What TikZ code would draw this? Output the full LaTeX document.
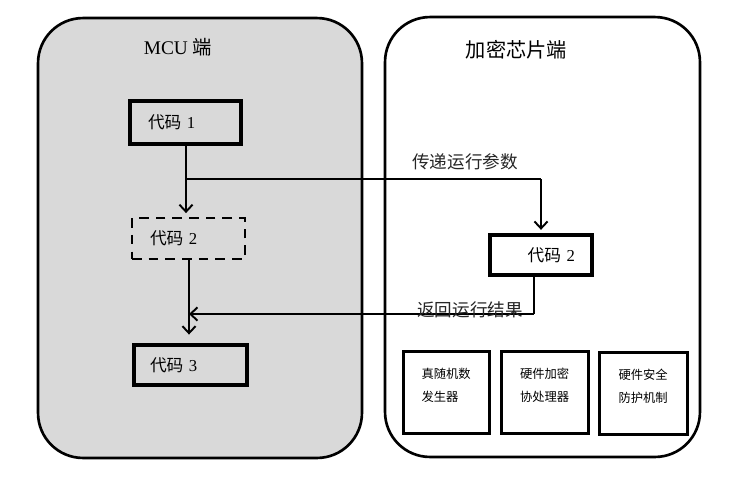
\documentclass[tikz,border=0pt]{standalone}
\usepackage{fontspec}
\setmainfont{Liberation Serif}
\newfontfamily\cjk{Noto Sans CJK SC}
\usetikzlibrary{arrows.meta}
\definecolor{panelgray}{HTML}{D9D9D9}
\tikzset{
  panel/.style={draw, line width=1.5pt, rounded corners=0.9cm, inner sep=0pt, minimum height=8.8cm},
  codebox/.style={draw, line width=1.9pt, inner ysep=0pt, font=\fontsize{9.5}{11}\selectfont},
  unitbox/.style={draw, line width=1.8pt, align=left, inner xsep=0.36cm, text width=1.0cm,
    minimum height=1.64cm, text depth=0.76cm, anchor=north west, font=\cjk\fontsize{7}{13}\selectfont},
  flowlabel/.style={font=\fontsize{10}{12}\selectfont, text=black!85},
  flow/.style={-{Straight Barb[length=4pt,width=7.5pt]}, line width=1.1pt},
}
\begin{document}
\begin{tikzpicture}[x=0.02cm, y=-0.02cm]
    \useasboundingbox (0,0) rectangle (747,478);

    % Two sides
    \node[panel, fill=panelgray, minimum width=6.48cm] (mcu) at (200,238) {};
    \node[panel, fill=white, minimum width=6.3cm] (chip) at (542.5,237) {};
    \node[font=\fontsize{11}{13}\selectfont] (mcutitle) at (178,47) {MCU {\cjk 端}};
    \node[font=\cjk\fontsize{11.5}{13}\selectfont] (chiptitle) at (516.5,50) {加密芯片端};

    % Code blocks
    \node[codebox, align=left, inner xsep=0.36cm, text width=1.5cm, minimum height=0.86cm] (c1) at (185.5,122.5) {{\cjk 代码} 1};
    \node[codebox, align=left, inner xsep=0.36cm, text width=1.54cm, minimum height=0.82cm,
      dash pattern=on 5.5pt off 4pt, line width=1.6pt] (c2) at (188.5,238.5) {{\cjk 代码} 2};
    \node[codebox, align=left, inner xsep=0.32cm, text width=1.62cm, minimum height=0.8cm] (c3) at (190.5,365) {{\cjk 代码} 3};
    \node[codebox, align=right, inner xsep=0.34cm, text width=1.36cm, minimum height=0.8cm] (r2) at (541,255) {{\cjk 代码} 2};

    % Security units
    \node[unitbox] (trng) at (402,350) {真随机数\\发生器};
    \node[unitbox, minimum width=1.74cm] (crypto) at (500,350) {硬件加密\\协处理器};
    \node[unitbox, minimum width=1.76cm] (guard) at (598,351) {硬件安全\\防护机制};

    % Connectors
    \coordinate (split) at (186,179);
    \coordinate (ret) at (534,314);
    \coordinate (join) at (189,314);
    \draw[flow, shorten >=2pt] (c1.south -| split) -- (split |- c2.north);
    \draw[line width=1.1pt] (split) -- (split -| r2.north);
    \draw[flow, shorten >=2pt] (split -| r2.north) -- (r2.north);
    \draw[line width=1.1pt] (r2.south -| ret) -- (ret);
    \draw[flow] (ret) -- (join);
    \draw[flow, shorten >=5pt] (c2.south -| join) -- (join |- c3.north);

    % Labels
    \node[flowlabel, font=\cjk\fontsize{10}{12}\selectfont] (send) at (465,162) {传递运行参数};
    \node[flowlabel, font=\cjk\fontsize{10}{12}\selectfont] (back) at (470,310) {返回运行结果};
\end{tikzpicture}
\end{document}
